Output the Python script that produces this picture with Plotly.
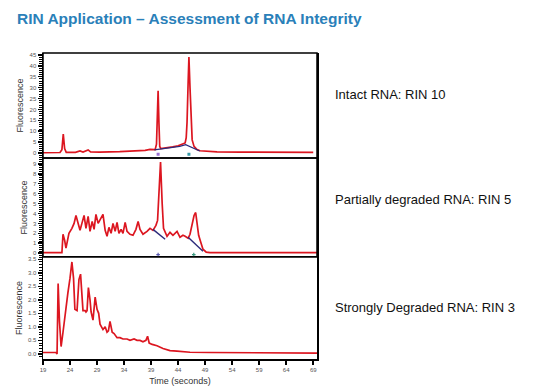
import plotly.graph_objects as go

# ---------------- data ----------------
x_ticks = [19, 24, 29, 34, 39, 44, 49, 54, 59, 64, 69]

intact_t = [19.0, 22.15, 22.5, 22.75, 23.0, 23.3, 25.0, 25.85, 26.4, 26.95, 27.35, 27.8,
            29.5, 33.2, 35.6, 37.9, 38.8, 39.75, 40.0, 40.15, 40.3, 40.45, 40.6, 40.8,
            41.9, 43.0, 44.0, 44.75, 45.3, 45.5, 45.65, 45.85, 46.0, 46.2, 46.4, 46.6,
            46.95, 47.5, 48.05, 49.9, 51.2, 55.5, 60.5, 64.75, 69.0]
intact_f = [0.1, 0.2, 1.5, 8.7, 2.0, 0.3, 0.3, 0.9, 0.4, 0.8, 1.4, 0.5,
            0.4, 0.6, 0.8, 1.2, 1.6, 1.5, 4.0, 16.0, 28.5, 14.0, 3.0, 2.0,
            2.3, 2.8, 3.3, 4.0, 4.6, 7.0, 14.0, 32.0, 44.0, 30.0, 12.0, 6.0,
            3.0, 1.6, 1.0, 0.6, 0.5, 0.4, 0.3, 0.3, 0.3]
intact_base_t = [39.6, 40.9, 42.5, 44.3, 45.4, 46.6, 48.0]
intact_base_f = [1.4, 1.9, 2.3, 3.0, 3.8, 2.4, 0.9]
intact_mark_t = [40.3, 46.0]
intact_mark_f = [-0.6, -0.6]

partial_t = [19.0, 22.5, 22.7, 23.0, 23.25, 23.8, 24.35, 24.75, 25.1, 25.5, 25.85, 26.2,
             26.6, 26.95, 27.35, 27.7, 28.1, 28.45, 28.8, 29.2, 29.55, 30.1, 30.5, 30.85,
             31.2, 31.6, 31.95, 32.35, 32.7, 33.05, 33.45, 33.8, 34.2, 34.55, 35.1, 35.65,
             36.2, 36.6, 36.95, 37.5, 38.25, 38.8, 39.35, 39.9, 40.2, 40.5, 40.75, 41.05,
             41.3, 41.95, 42.5, 43.05, 43.8, 44.35, 44.9, 45.3, 45.85, 46.2, 46.6, 46.95,
             47.25, 47.5, 47.8, 48.25, 48.6, 49.2, 49.9, 69.7]
partial_f = [0.05, 0.05, 1.9, 1.3, 0.5, 2.0, 2.5, 3.0, 3.8, 3.0, 2.3, 3.0,
             3.8, 2.5, 3.7, 2.2, 3.2, 2.4, 3.9, 3.0, 3.4, 3.9, 2.3, 1.7,
             2.6, 2.0, 3.0, 2.2, 3.1, 2.0, 2.4, 2.0, 3.1, 2.2, 1.9, 1.8,
             2.4, 3.2, 2.4, 1.9, 2.2, 2.5, 2.3, 2.8, 3.3, 6.0, 9.2, 5.0,
             2.5, 1.7, 2.1, 1.8, 2.2, 1.6, 1.8, 1.7, 1.5, 1.9, 2.8, 3.8,
             4.1, 3.2, 1.8, 1.0, 0.4, 0.1, 0.05, 0.05]
partial_base1_t = [39.35, 41.6]
partial_base1_f = [2.4, 1.4]
partial_base2_t = [45.85, 48.6]
partial_base2_f = [1.6, 0.2]
partial_mark_t = [40.3, 46.9]
partial_mark_f = [-0.15, -0.15]

degraded_t = [19.0, 21.4, 21.6, 21.8, 22.05, 22.35, 22.7, 23.25, 23.6, 24.0, 24.35, 24.65,
              24.9, 25.3, 25.65, 25.95, 26.2, 26.4, 26.8, 26.95, 27.15, 27.4, 27.7, 27.9,
              28.25, 28.65, 29.0, 29.3, 29.55, 30.1, 30.5, 30.85, 31.1, 31.4, 31.8, 32.15,
              32.7, 33.25, 33.8, 34.55, 35.1, 35.85, 36.4, 36.95, 37.5, 38.05, 38.35, 38.65,
              39.2, 40.1, 41.2, 42.5, 43.8, 46.2, 49.9, 57.3, 69.7]
degraded_f = [0.05, 0.05, 0.0, 2.6, 1.2, 0.27, 0.8, 1.8, 2.25, 2.8, 3.4, 2.8,
              1.65, 1.6, 2.75, 2.95, 2.3, 1.6, 1.6, 1.55, 1.6, 2.45, 2.0, 1.55,
              1.25, 2.1, 1.65, 1.5, 1.1, 0.9, 1.0, 0.8, 0.85, 1.2, 0.8, 0.75,
              0.6, 0.6, 0.55, 0.55, 0.5, 0.55, 0.5, 0.5, 0.45, 0.5, 0.65, 0.4,
              0.35, 0.3, 0.2, 0.12, 0.1, 0.06, 0.05, 0.04, 0.03]

panel_labels = ["Intact RNA: RIN 10", "Partially degraded RNA: RIN 5", "Strongly Degraded RNA: RIN 3"]
title_text = "RIN Application \u2013 Assessment of RNA Integrity"

# ---------------- figure ----------------
RED = "#dc1620"
NAVY = "#2b2a7a"
fig = go.Figure()

def trace(t, f, ax, color=RED, width=1.7):
    fig.add_trace(go.Scatter(x=t, y=f, xaxis="x", yaxis=ax, mode="lines",
                             line=dict(color=color, width=width), hoverinfo="skip",
                             showlegend=False))

trace(intact_t, intact_f, "y3")
trace(intact_base_t, intact_base_f, "y3", NAVY, 1.2)
trace(partial_t, partial_f, "y2")
trace(partial_base1_t, partial_base1_f, "y2", NAVY, 1.4)
trace(partial_base2_t, partial_base2_f, "y2", NAVY, 1.4)
trace(degraded_t, degraded_f, "y")

fig.add_trace(go.Scatter(x=intact_mark_t, y=intact_mark_f, xaxis="x", yaxis="y3",
                         mode="markers", marker=dict(color=["#9a6fd0", "#3a9aa8"], size=3, symbol="square"),
                         hoverinfo="skip", showlegend=False))
fig.add_trace(go.Scatter(x=partial_mark_t, y=partial_mark_f, xaxis="x", yaxis="y2",
                         mode="markers", marker=dict(color=["#5a5ab0", "#3a9a80"], size=3, symbol="cross"),
                         hoverinfo="skip", showlegend=False))

tickfont = dict(family="Liberation Sans, Arial", size=6, color="#555555")
titlefont = dict(family="Liberation Sans, Arial", size=9, color="#333333")

def yax(domain, rng, dtick, minor, fmt=None):
    d = dict(domain=domain, range=rng, dtick=dtick, tick0=0, showline=True, mirror=True,
             linecolor="black", linewidth=1.5, ticks="outside", ticklen=4, tickwidth=1.5,
             tickcolor="black", showgrid=False, zeroline=False, tickfont=tickfont,
             automargin=False,
             title=dict(text="Fluorescence", font=titlefont, standoff=4),
             minor=dict(dtick=minor, tick0=0, ticks="outside", ticklen=3, tickwidth=1,
                        tickcolor="black", showgrid=False))
    if fmt:
        d["tickformat"] = fmt
    return d

fig.update_layout(
    width=539, height=389,
    margin=dict(l=43, r=222, t=53, b=30, autoexpand=False),
    paper_bgcolor="white", plot_bgcolor="white",
    xaxis=dict(range=[19, 69.7], tickvals=x_ticks, showline=True, mirror=True,
               linecolor="black", linewidth=1.5, ticks="outside", ticklen=4, tickwidth=2,
               tickcolor="black", showgrid=False, zeroline=False, automargin=False,
               tickfont=dict(family="Liberation Sans, Arial", size=6, color="#555555"),
               title=dict(text="Time (seconds)", font=titlefont, standoff=6),
               anchor="y"),
    yaxis=yax([0, 0.333], [-0.19, 3.58], 0.5, 0.1, ".1f"),
    yaxis2=yax([0.333, 0.657], [-0.4, 9.6], 1, 0.2),
    yaxis3=yax([0.657, 1.0], [-2.3, 45.9], 5, 1),
)

for (y0, y1) in [(0.333, 0.657), (0.657, 1.0)]:
    fig.add_shape(type="rect", xref="paper", yref="paper", x0=0, x1=1, y0=y0, y1=y1,
                  line=dict(color="black", width=1.5))

ys = [0.863, 0.52, 0.167]
for lab, yy in zip(panel_labels, ys):
    fig.add_annotation(text=lab, xref="paper", yref="paper", x=1.058, y=yy,
                       xanchor="left", yanchor="middle", showarrow=False,
                       font=dict(family="Liberation Sans, Arial", size=13, color="#111111"))

fig.add_annotation(text="<b>" + title_text + "</b>", xref="paper", yref="paper",
                   x=-0.102, y=1.114, xanchor="left", yanchor="middle", showarrow=False,
                   font=dict(family="Liberation Sans, Arial", size=15.5, color="#2a80b9"))

fig.write_html("out.html", config={"displayModeBar": False, "staticPlot": True},
               post_script="document.body.style.margin='0';document.body.style.padding='0';")
